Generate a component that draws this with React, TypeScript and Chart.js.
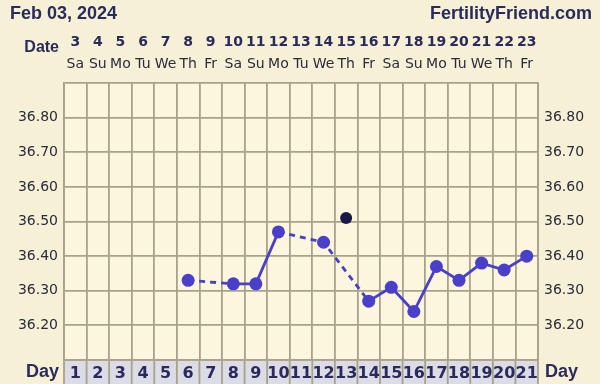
import React, { useEffect, useRef } from "react";
import { Chart, registerables } from "chart.js";

Chart.register(...registerables);

const cycleDays = ["1","2","3","4","5","6","7","8","9","10","11","12","13","14","15","16","17","18","19","20","21"];
const dateNums = ["3","4","5","6","7","8","9","10","11","12","13","14","15","16","17","18","19","20","21","22","23"];
const weekdays = ["Sa","Su","Mo","Tu","We","Th","Fr","Sa","Su","Mo","Tu","We","Th","Fr","Sa","Su","Mo","Tu","We","Th","Fr"];
const temps: (number | null)[] = [null,null,null,null,null,36.33,null,36.32,36.32,36.47,null,36.44,null,36.27,36.31,36.24,36.37,36.33,36.38,36.36,36.40];
const discarded: (number | null)[] = [null,null,null,null,null,null,null,null,null,null,null,null,36.51,null,null,null,null,null,null,null,null];
const headerDate = "Feb 03, 2024";
const siteName = "FertilityFriend.com";

const NAVY = "#2b2a5c";
const GRID = "#a7a28a";
const FONT = "'DejaVu Sans', Verdana, sans-serif";
const HFONT = "'Liberation Sans', Arial, sans-serif";

const decorPlugin = {
  id: "decor",
  beforeDraw(chart: any) {
    const { ctx, chartArea } = chart;
    ctx.save();
    ctx.fillStyle = "#f6f1d6";
    ctx.fillRect(0, 0, chart.width, chart.height);
    ctx.fillStyle = "#fbf6dd";
    ctx.fillRect(chartArea.left, chartArea.top, chartArea.right - chartArea.left, chartArea.bottom - chartArea.top);
    ctx.restore();
  },
  afterDraw(chart: any) {
    const { ctx, chartArea } = chart;
    const x = chart.scales.x;
    const colW = (chartArea.right - chartArea.left) / cycleDays.length;
    ctx.save();
    // header
    ctx.fillStyle = NAVY;
    ctx.textBaseline = "middle";
    ctx.font = `bold 18px ${HFONT}`;
    ctx.textAlign = "left";
    ctx.fillText(headerDate, 10, 14);
    ctx.textAlign = "right";
    ctx.fillText(siteName, 592, 14);
    // date row
    ctx.font = `bold 16px ${HFONT}`;
    ctx.textAlign = "right";
    ctx.fillText("Date", 59, 48);
    ctx.font = `bold 14px ${FONT}`;
    ctx.textAlign = "center";
    dateNums.forEach((d, i) => {
      ctx.fillText(d, x.getPixelForValue(i), 42);
    });
    ctx.font = `14px ${FONT}`;
    ctx.fillStyle = "#2a2a3a";
    weekdays.forEach((w, i) => {
      ctx.fillText(w, x.getPixelForValue(i), 64);
    });
    // day row
    const top = chartArea.bottom + 1;
    const h = chart.height - top;
    ctx.fillStyle = "#dcdce6";
    ctx.fillRect(chartArea.left, top, chartArea.right - chartArea.left, h);
    ctx.strokeStyle = GRID;
    ctx.lineWidth = 1.8;
    for (let i = 0; i <= cycleDays.length; i++) {
      const px = chartArea.left + i * colW;
      ctx.beginPath();
      ctx.moveTo(px, top);
      ctx.lineTo(px, chart.height);
      ctx.stroke();
    }
    ctx.fillStyle = NAVY;
    ctx.font = `bold 16px ${FONT}`;
    cycleDays.forEach((d, i) => {
      ctx.fillText(d, x.getPixelForValue(i), top + h / 2 + 1);
    });
    ctx.font = `bold 18px ${HFONT}`;
    ctx.textAlign = "right";
    ctx.fillText("Day", 59, top + h / 2);
    ctx.textAlign = "left";
    ctx.fillText("Day", 545, top + h / 2);
    ctx.restore();
  },
};

export default function App() {
  const ref = useRef<HTMLCanvasElement>(null);
  useEffect(() => {
    const yTicks = {
      stepSize: 0.05,
      color: "#2a2a3a",
      font: { family: FONT, size: 14 },
      padding: 6,
      callback: (v: number) => {
        const r = Math.round(v * 100);
        return r % 10 === 0 && r > 3610 && r < 3690 ? (r / 100).toFixed(2) : "";
      },
    };
    const chart = new Chart(ref.current!, {
      type: "line",
      data: {
        labels: cycleDays,
        datasets: [
          {
            data: temps,
            borderColor: "#4a3fcb",
            backgroundColor: "#4a3fcb",
            borderWidth: 2.8,
            pointRadius: 6.5,
            pointBorderWidth: 0,
            spanGaps: true,
            segment: {
              borderDash: (c: any) => (c.p0.skip || c.p1.skip ? [6, 5] : undefined),
            },
          },
          {
            data: discarded,
            showLine: false,
            backgroundColor: "#1a1848",
            borderColor: "#1a1848",
            pointRadius: 6,
            pointBorderWidth: 0,
          },
        ],
      },
      options: {
        animation: false,
        responsive: false,
        events: [],
        layout: { padding: { top: 83, bottom: 24, left: 0, right: 0 } },
        plugins: { legend: { display: false }, tooltip: { enabled: false } },
        scales: {
          x: {
            type: "category",
            offset: true,
            grid: { offset: true, color: GRID, lineWidth: 1.8, drawTicks: false },
            border: { color: GRID, width: 1.8 },
            ticks: { display: false },
            afterFit: (s: any) => { s.height = 0; },
          },
          y: {
            position: "left",
            min: 36.1,
            max: 36.9,
            ticks: yTicks as any,
            grid: { color: GRID, lineWidth: 1.8, drawTicks: false },
            border: { color: GRID, width: 1.8 },
            afterFit: (s: any) => { s.width = 64; },
          },
          y2: {
            position: "right",
            min: 36.1,
            max: 36.9,
            ticks: yTicks as any,
            grid: { display: false, drawTicks: false },
            border: { color: GRID, width: 1.8 },
            afterFit: (s: any) => { s.width = 62; },
          },
        },
      },
      plugins: [decorPlugin],
    });
    return () => chart.destroy();
  }, []);
  return (
    <div style={{ position: "fixed", left: 0, top: 0, width: 600, height: 384 }}>
      <canvas ref={ref} width={600} height={384} style={{ width: 600, height: 384, display: "block" }} />
    </div>
  );
}
